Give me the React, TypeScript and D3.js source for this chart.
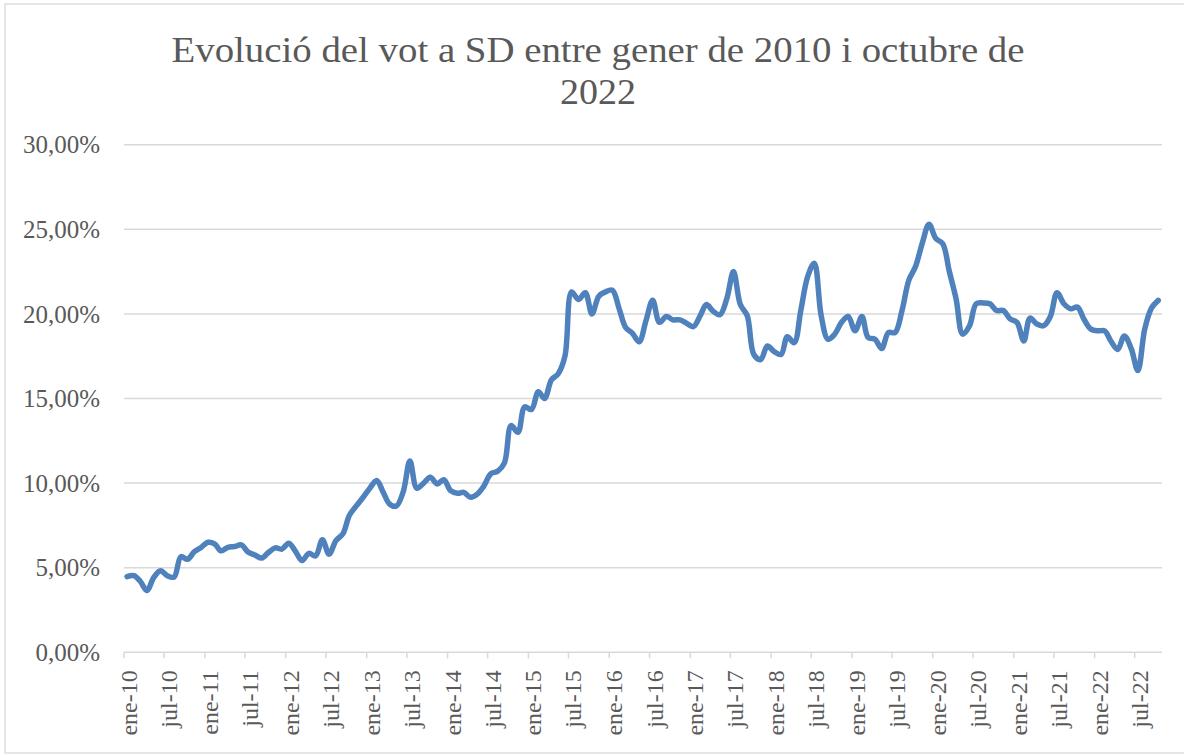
import React from 'react';
import * as d3 from 'd3';

const titleLines = ['Evolució del vot a SD entre gener de 2010 i octubre de', '2022'];

// monthly share of the vote for SD (%), from ene-10 to oct-22
const startYear = 2010;
const sdVote = [
  4.47, 4.53, 4.2, 3.65, 4.42, 4.82, 4.53, 4.45, 5.65, 5.5, 5.95, 6.2,
  6.5, 6.4, 6.0, 6.2, 6.25, 6.35, 5.93, 5.75, 5.57, 5.9, 6.17, 6.1,
  6.45, 5.95, 5.42, 5.85, 5.7, 6.65, 5.8, 6.6, 7.0, 8.1, 8.65, 9.15,
  9.7, 10.15, 9.5, 8.75, 8.65, 9.5, 11.3, 9.7, 10.0, 10.35, 9.95, 10.2,
  9.55, 9.4, 9.45, 9.16, 9.35, 9.85, 10.55, 10.7, 11.2, 13.4, 13.0, 14.5,
  14.35, 15.4, 15.0, 16.1, 16.45, 17.5, 21.3, 20.85, 21.25, 20.0, 21.05, 21.3,
  21.4, 20.3, 19.2, 18.85, 18.35, 19.6, 20.8, 19.5, 19.85, 19.65, 19.65, 19.45,
  19.25, 19.9, 20.55, 20.15, 19.95, 20.9, 22.5, 20.55, 19.9, 17.6, 17.3, 18.1,
  17.77, 17.6, 18.65, 18.3, 20.2, 22.2, 23.0, 19.9, 18.5, 18.8, 19.5, 19.85,
  19.0, 19.85, 18.6, 18.5, 17.95, 18.9, 18.9, 20.2, 22.0, 22.8, 24.2, 25.3,
  24.45, 24.15, 22.55, 20.9, 18.8, 19.3, 20.6, 20.65, 20.6, 20.2, 20.2, 19.7,
  19.5, 18.4, 19.75, 19.4, 19.3, 19.85, 21.25, 20.6, 20.3, 20.4, 19.65, 19.1,
  19.0, 19.0, 18.4, 17.9, 18.7, 17.95, 16.65, 19.1, 20.35, 20.8,
];

const yTicks = [0, 5, 10, 15, 20, 25, 30];
const monthAbbr = ['ene', 'feb', 'mar', 'abr', 'may', 'jun', 'jul', 'ago', 'sep', 'oct', 'nov', 'dic'];

const dates = sdVote.map((_, i) => new Date(startYear, i, 15));

const locale = d3.formatLocale({ decimal: ',', thousands: '.', grouping: [3], currency: ['', '€'] });
const fmtPct = (v: number) => locale.format('.2f')(v) + '%';
const fmtMonth = (d: Date) => `${monthAbbr[d.getMonth()]}-${String(d.getFullYear()).slice(2)}`;

const App = () => {
  const width = 1184;
  const height = 755;
  const plot = { left: 124, right: 1162, top: 144.7, bottom: 652.3 };
  const gray = '#595959';
  const font = '"Liberation Serif", "Times New Roman", serif';
  const titleWidths = [853, 76];

  const x = d3
    .scaleTime()
    .domain([new Date(2010, 0, 1), new Date(2022, 10, 1)])
    .range([plot.left, plot.right]);

  const y = d3.scaleLinear().domain([0, 30]).range([plot.bottom, plot.top]);

  const xTicks = x.ticks(d3.timeMonth.every(6)!);

  const line = d3
    .line<number>()
    .x((_, i) => x(dates[i]))
    .y((d) => y(d))
    .curve(d3.curveCatmullRom.alpha(0.5));

  return (
    <svg
      width={width}
      height={height}
      style={{ position: 'absolute', left: 0, top: 0, background: '#fff' }}
      fontFamily={font}
    >
      <rect x={5} y={4} width={1200} height={749} fill="#fff" stroke="#D9D9D9" strokeWidth={1.3} />

      {titleLines.map((t, i) => (
        <text
          key={t}
          x={598}
          y={62 + i * 42}
          textAnchor="middle"
          fontSize={36}
          fill={gray}
          textLength={titleWidths[i]}
          lengthAdjust="spacingAndGlyphs"
        >
          {t}
        </text>
      ))}

      {/* gridlines + y labels */}
      {yTicks.map((t) => (
        <g key={t}>
          <line x1={plot.left} x2={plot.right} y1={y(t)} y2={y(t)} stroke="#D9D9D9" strokeWidth={1.5} />
          <text x={100} y={y(t)} dy="0.35em" textAnchor="end" fontSize={25} fill={gray}>
            {fmtPct(t)}
          </text>
        </g>
      ))}

      {/* x axis ticks + labels */}
      {xTicks.map((d) => (
        <g key={d.getTime()} transform={`translate(${x(d)},0)`}>
          <line y1={plot.bottom} y2={plot.bottom + 6} stroke="#D9D9D9" strokeWidth={1.5} />
          <text
            transform={`translate(13,${plot.bottom + 18}) rotate(-90)`}
            textAnchor="end"
            fontSize={24}
            fill={gray}
          >
            {fmtMonth(d)}
          </text>
        </g>
      ))}

      <path
        d={line(sdVote) ?? ''}
        fill="none"
        stroke="#4F81BD"
        strokeWidth={5.5}
        strokeLinejoin="round"
        strokeLinecap="round"
      />
    </svg>
  );
};

export default App;
